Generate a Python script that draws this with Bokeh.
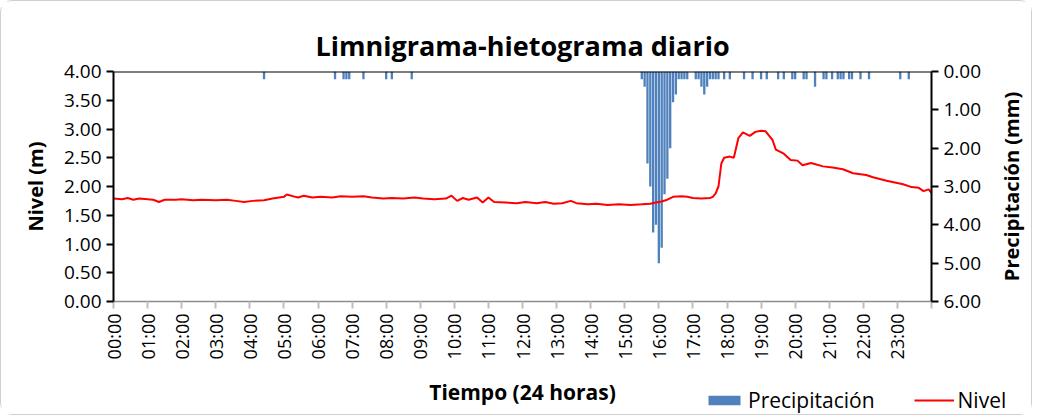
from math import pi
from bokeh.plotting import figure
from bokeh.layouts import column, row
from bokeh.models import (Range1d, LinearAxis, FixedTicker, NumeralTickFormatter,
                          Legend, LegendItem, Span, Label)
from bokeh.embed import file_html
from bokeh.resources import INLINE

# ---------------- data ----------------
rain_times = ["04:25", "06:30", "06:45", "06:50", "06:55", "07:20", "08:00", "08:10", "08:45",
              "15:30", "15:35", "15:40", "15:45", "15:50", "15:55", "16:00", "16:05", "16:10",
              "16:15", "16:20", "16:25", "16:30", "16:35", "16:40", "16:45", "16:50",
              "17:05", "17:10", "17:15", "17:20", "17:25", "17:30", "17:35", "17:40", "17:45",
              "17:55", "18:05", "18:30", "18:45", "19:00", "19:10", "19:30", "19:40", "19:55",
              "20:00", "20:15", "20:20", "20:35", "20:50", "20:55", "21:05", "21:15", "21:20",
              "21:25", "21:35", "21:40", "21:55", "22:10", "23:05", "23:20"]
rain_mm = [0.2, 0.2, 0.2, 0.2, 0.2, 0.2, 0.2, 0.2, 0.2,
           0.2, 0.4, 2.4, 3.0, 4.2, 4.0, 5.0, 4.6, 3.2,
           2.8, 2.0, 0.8, 0.6, 0.2, 0.2, 0.2, 0.2,
           0.2, 0.2, 0.4, 0.6, 0.4, 0.2, 0.2, 0.2, 0.2,
           0.2, 0.2, 0.2, 0.2, 0.2, 0.2, 0.2, 0.2, 0.2,
           0.2, 0.2, 0.2, 0.4, 0.2, 0.2, 0.2, 0.2, 0.2,
           0.2, 0.2, 0.2, 0.2, 0.2, 0.2, 0.2]

level_times = ["00:00", "00:15", "00:25", "00:35", "00:45", "01:00", "01:10", "01:20", "01:30",
               "01:50", "02:00", "02:20", "02:35", "03:00", "03:20", "03:35", "03:50", "04:05",
               "04:25", "04:40", "05:00", "05:05", "05:20", "05:25", "05:35", "05:50", "06:05",
               "06:25", "06:40", "07:00", "07:20", "07:35", "07:55", "08:10", "08:30", "08:50",
               "09:05", "09:25", "09:45", "09:55", "10:05", "10:15", "10:25", "10:40", "10:50",
               "11:00", "11:10", "11:30", "11:50", "12:05", "12:25", "12:40", "12:55", "13:10",
               "13:25", "13:35", "13:55", "14:10", "14:30", "14:50", "15:10", "15:30", "15:45",
               "15:55", "16:05", "16:15", "16:25", "16:40", "16:50", "17:00", "17:15", "17:30",
               "17:35", "17:40", "17:45", "17:50", "17:55", "18:05", "18:12", "18:20", "18:28",
               "18:40", "18:50", "19:00", "19:08", "19:20", "19:26", "19:40", "19:52", "20:04",
               "20:13", "20:28", "20:49", "21:06", "21:24", "21:42", "22:05", "22:17", "22:41",
               "23:10", "23:25", "23:37", "23:46", "23:55", "24:00"]
level_m = [1.79, 1.78, 1.80, 1.77, 1.79, 1.78, 1.77, 1.73, 1.77,
           1.77, 1.78, 1.76, 1.77, 1.76, 1.77, 1.75, 1.73, 1.75,
           1.76, 1.79, 1.82, 1.86, 1.82, 1.81, 1.84, 1.81, 1.82,
           1.81, 1.83, 1.82, 1.83, 1.81, 1.79, 1.80, 1.79, 1.81,
           1.79, 1.78, 1.79, 1.84, 1.75, 1.80, 1.77, 1.81, 1.72,
           1.81, 1.73, 1.72, 1.71, 1.73, 1.71, 1.73, 1.70, 1.71,
           1.75, 1.71, 1.69, 1.70, 1.68, 1.69, 1.68, 1.69, 1.70,
           1.72, 1.74, 1.77, 1.82, 1.83, 1.82, 1.80, 1.79, 1.80,
           1.82, 1.88, 2.00, 2.40, 2.50, 2.52, 2.50, 2.84, 2.94,
           2.88, 2.95, 2.97, 2.96, 2.81, 2.64, 2.57, 2.46, 2.45,
           2.37, 2.41, 2.35, 2.33, 2.30, 2.23, 2.20, 2.16, 2.10,
           2.04, 1.99, 1.98, 1.92, 1.95, 1.89]

hour_ticks = list(range(25))
hour_labels = ["%02d:00" % h for h in range(24)] + [""]
level_ticks = [0, 0.5, 1.0, 1.5, 2.0, 2.5, 3.0, 3.5, 4.0]
rain_ticks = [0, 1, 2, 3, 4, 5, 6]

TITLE = "Limnigrama-hietograma diario"
X_TITLE = "Tiempo (24 horas)"
Y_TITLE = "Nivel (m)"
Y2_TITLE = "Precipitación (mm)"
SERIES = ["Precipitación", "Nivel"]


def to_hours(s):
    h, m = s.split(":")
    return int(h) + int(m) / 60.0


rain_h = [to_hours(t) for t in rain_times]
level_h = [to_hours(t) for t in level_times]

FONT = "Open Sans"
W = 1030
W_RIGHT = 40
H_MAIN = 371
H_BOTTOM = 42
BAR_COLOR = "#4F81BD"
LINE_COLOR = "#FF0000"


def bare(fig):
    fig.xgrid.visible = False
    fig.ygrid.visible = False
    fig.outline_line_color = None
    fig.background_fill_color = "white"
    fig.border_fill_color = "white"


# ---------------- main chart ----------------
p = figure(width=W - W_RIGHT, height=H_MAIN, output_backend="svg", toolbar_location=None,
           x_range=Range1d(0, 24), y_range=Range1d(0, 4),
           min_border_left=112, min_border_right=60, min_border_top=70, min_border_bottom=71)
p.extra_y_ranges = {"rain": Range1d(6, 0)}
bare(p)

p.title.text = TITLE
p.title.align = "center"
p.title.text_font = FONT
p.title.text_font_size = "27px"
p.title.text_font_style = "bold"
p.title.text_color = "black"
p.title.standoff = 15


def style_axis(ax, size="19px"):
    ax.axis_label_text_font = FONT
    ax.axis_label_text_font_size = "20px"
    ax.axis_label_text_font_style = "bold"
    ax.axis_label_text_color = "black"
    ax.major_label_text_font = FONT
    ax.major_label_text_font_size = size
    ax.major_label_text_color = "black"
    ax.major_tick_out = 7
    ax.major_tick_in = 0
    ax.minor_tick_line_color = None


# left axis
ya = p.yaxis[0]
ya.ticker = FixedTicker(ticks=level_ticks)
ya.formatter = NumeralTickFormatter(format="0.00")
style_axis(ya)
ya.axis_label = Y_TITLE
ya.axis_line_color = "black"
ya.axis_line_width = 2
ya.major_tick_line_color = "black"
ya.major_tick_line_width = 2
ya.axis_label_standoff = 12

# right axis (precipitation, inverted)
ra = LinearAxis(y_range_name="rain", ticker=FixedTicker(ticks=rain_ticks),
                formatter=NumeralTickFormatter(format="0.00"))
style_axis(ra)
ra.axis_line_color = "black"
ra.axis_line_width = 2
ra.major_tick_line_color = "black"
ra.major_tick_line_width = 2
p.add_layout(ra, "right")

# bottom axis
xa = p.xaxis[0]
xa.ticker = FixedTicker(ticks=hour_ticks)
xa.major_label_overrides = {t: lab for t, lab in zip(hour_ticks, hour_labels)}
xa.major_label_orientation = pi / 2
style_axis(xa, size="18px")
xa.axis_line_color = "#8c8c8c"
xa.axis_line_width = 1.5
xa.major_tick_line_color = "#bfbfbf"
xa.major_tick_line_width = 2

p.add_layout(Span(location=4, dimension="width", line_color="black", line_width=2))

bars = p.vbar(x=rain_h, width=0.068, top=0, bottom=rain_mm, y_range_name="rain",
              fill_color=BAR_COLOR, line_color=None)
line = p.line(level_h, level_m, line_color=LINE_COLOR, line_width=2)

# ---------------- right strip: secondary axis title ----------------
r = figure(width=W_RIGHT, height=H_MAIN, output_backend="svg", toolbar_location=None,
           x_range=Range1d(0, 2), y_range=Range1d(0, 2),
           x_axis_location=None, y_axis_location=None,
           min_border_left=0, min_border_right=0, min_border_top=0, min_border_bottom=0)
bare(r)
r.add_layout(Label(x=1, y=1, text=Y2_TITLE, angle=pi / 2, text_align="center",
                   text_baseline="middle", text_font=FONT, text_font_size="20px",
                   text_font_style="bold", text_color="black"))

# ---------------- bottom strip: x-axis title and legend ----------------
q = figure(width=W, height=H_BOTTOM, output_backend="svg", toolbar_location=None,
           x_range=Range1d(0, W), y_range=Range1d(0, H_BOTTOM),
           x_axis_location=None, y_axis_location=None,
           min_border_left=0, min_border_right=0, min_border_top=0, min_border_bottom=0)
bare(q)
q.add_layout(Label(x=521, y=23, text=X_TITLE, text_align="center", text_baseline="middle",
                   text_font=FONT, text_font_size="21px", text_font_style="bold",
                   text_color="black"))

kb = q.vbar(x=rain_h, width=0.068, top=0, bottom=rain_mm, fill_color=BAR_COLOR,
            line_color=None, visible=False)
kl = q.line(level_h, level_m, line_color=LINE_COLOR, line_width=2, visible=False)
legend = Legend(items=[LegendItem(label=SERIES[0], renderers=[kb]),
                       LegendItem(label=SERIES[1], renderers=[kl])],
                orientation="horizontal", location=(703, 0),
                border_line_color=None, background_fill_alpha=0,
                inactive_fill_alpha=0,
                glyph_width=40, glyph_height=12, label_text_font=FONT,
                label_text_font_size="21px", label_text_color="black",
                spacing=39, padding=0, margin=0, label_standoff=4)
q.add_layout(legend)

layout = column(row(p, r, spacing=0), q, spacing=0,
                styles={"border": "1px solid #d0d0d0", "border-radius": "12px"})

open("out.html", "w").write(file_html(layout, INLINE))
